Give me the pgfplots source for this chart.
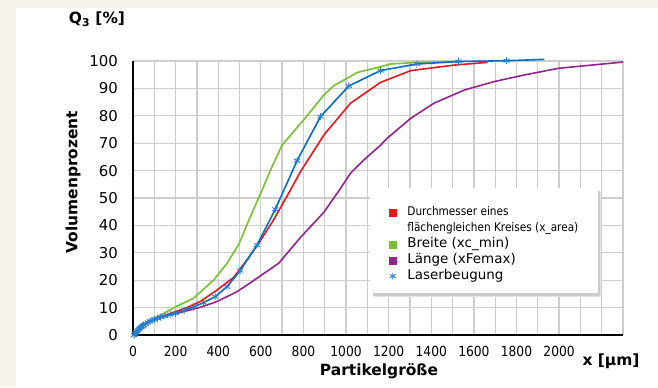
\documentclass[border=0pt]{standalone}
\usepackage{fontspec}
\setmainfont{DejaVu Sans}
\newfontfamily\cond{DejaVu Sans}[FakeStretch=0.88]
\usepackage{pgfplots}
\pgfplotsset{compat=1.18}
\definecolor{cRed}{RGB}{232,22,30}
\definecolor{cGreen}{RGB}{122,190,50}
\definecolor{cPurple}{RGB}{146,36,140}
\definecolor{cBlue}{RGB}{0,112,192}
\definecolor{cMark}{RGB}{40,128,205}
\definecolor{cGrid}{RGB}{205,205,205}
\definecolor{cBeige}{RGB}{247,242,236}
\begin{document}
\begin{tikzpicture}[x=1bp,y=1bp]
\fill[cBeige] (-133,-52) rectangle (525,335);
\fill[white] (-117,-52) rectangle (525,327);
\begin{axis}[
  at={(0,0)}, anchor=south west,
  scale only axis, width=490bp, height=274bp,
  xmin=0, xmax=2300, ymin=0, ymax=100,
  clip=false,
  xtick={0,100,...,2300},
  xticklabels={0,,200,,400,,600,,800,,1000,,1200,,1400,,1600,,1800,,2000,,,},
  ytick={0,10,...,100},
  grid=major,
  major grid style={cGrid, line width=1.3bp},
  axis x line*=bottom, axis y line*=left,
  x axis line style={-, black, line width=1.2bp},
  y axis line style={-, black, line width=1.2bp},
  major tick length=0pt,
  /pgf/number format/assume math mode=true,
  yticklabel style={font=\fontsize{15}{15}\selectfont, inner sep=0pt, anchor=east, xshift=-15bp},
  xticklabel style={font=\cond\fontsize{14}{14}\selectfont, inner sep=0pt, anchor=north, yshift=-11bp},
  legend style={at={(rel axis cs:0.48367,0.5365)}, anchor=north west, draw=none, fill=none,
    inner xsep=14bp, inner ysep=16bp, column sep=9bp,
    nodes={inner sep=2bp, text height=9bp, text depth=3bp}},
  legend cell align=left,
]
\addplot[cPurple, line width=1.6bp, forget plot] coordinates {
(0,0) (20,1.5) (40,3.0) (60,4.1) (80,5.0) (100,5.6) (150,6.8) (200,7.8) (250,8.8)
(315,10.1) (394,12.2) (488,15.8) (582,20.7) (684,26.2) (786,35.6) (896,44.8)
(974,53.5) (1021,59.0) (1084,63.9) (1162,69.3) (1193,71.8) (1304,79.1) (1413,84.6)
(1555,89.4) (1696,92.5) (1837,94.9) (1994,97.3) (2151,98.5) (2300,99.6)};
\addplot[cGreen, line width=1.6bp, forget plot] coordinates {
(0,0) (20,1.5) (40,3.0) (60,4.2) (80,5.1) (100,6.0) (158,8.5) (200,10.3) (284,13.4)
(378,20.0) (440,26.0) (496,33.0) (551,43.2) (606,52.9) (650,61.0) (700,69.3)
(801,78.5) (896,87.6) (943,91.0) (1053,95.8) (1162,97.9) (1209,98.9) (1335,99.5) (1523,99.8)};
\addplot[cRed, line width=1.6bp, forget plot] coordinates {
(0,0) (20,1.5) (40,3.0) (60,4.2) (80,5.1) (100,5.8) (150,7.2) (200,8.5) (250,9.9)
(315,12.2) (394,16.4) (472,21.0) (535,27.4) (590,33.5) (660,42.0) (739,52.9)
(786,59.6) (896,73.0) (1021,84.6) (1162,92.2) (1304,96.5) (1507,98.5) (1664,99.5)};
\addplot[cBlue, line width=1.6bp, forget plot] coordinates {
(5,0) (10,0.4) (15,0.9) (20,1.4) (25,1.9) (30,2.3) (35,2.7) (40,3.0) (45,3.3) (50,3.6)
(60,4.1) (70,4.6) (80,5.0) (90,5.4) (100,5.7) (115,6.1) (130,6.5) (150,6.9) (175,7.4)
(200,7.9) (240,9.0) (284,10.3) (331,11.8) (386,14.0) (441,17.6) (503,23.5) (582,32.8)
(668,45.9) (770,63.6) (880,79.7) (1013,90.9) (1162,96.5) (1332,98.9) (1528,99.8)
(1754,100.1) (1931,100.6)};
\addplot[only marks, mark=asterisk, mark size=3.5bp, cMark, mark options={line width=0.9bp}, forget plot] coordinates {
(5,0) (10,0.4) (15,0.9) (20,1.4) (25,1.9) (30,2.3) (35,2.7) (40,3.0) (45,3.3) (50,3.6)
(60,4.1) (70,4.6) (80,5.0) (90,5.4) (100,5.7) (115,6.1) (130,6.5) (150,6.9) (175,7.4)
(200,7.9) (240,9.0) (284,10.3) (331,11.8) (386,14.0) (441,17.6) (503,23.5) (582,32.8)
(668,45.9) (770,63.6) (880,79.7) (1013,90.9) (1162,96.5) (1332,98.9) (1528,99.8)
(1754,100.1)};
\fill[black!10] (rel axis cs:0.4918,0.5219) rectangle (rel axis cs:0.9551,0.1387);
\fill[black!20] (rel axis cs:0.4898,0.5255) rectangle (rel axis cs:0.9531,0.1423);
\fill[white] (rel axis cs:0.48367,0.5365) rectangle (rel axis cs:0.94898,0.15328);
\addlegendimage{legend image code/.code={\fill[cRed] (5bp,-3.5bp) rectangle (12bp,3.5bp);}}
\addlegendentry{\cond\fontsize{12}{12}\selectfont Durchmesser eines}
\addlegendimage{empty legend}
\addlegendentry{\cond\fontsize{12}{12}\selectfont flächengleichen Kreises (x\_area)}
\addlegendimage{legend image code/.code={\fill[cGreen] (5bp,-3.5bp) rectangle (12bp,3.5bp);}}
\addlegendentry{\fontsize{13.5}{13.5}\selectfont Breite (xc\_min)}
\addlegendimage{legend image code/.code={\fill[cPurple] (5bp,-3.5bp) rectangle (12bp,3.5bp);}}
\addlegendentry{\fontsize{13.5}{13.5}\selectfont Länge (xFemax)}
\addlegendimage{only marks, mark=asterisk, mark size=3.5bp, cMark, mark options={line width=0.9bp}}
\addlegendentry{\fontsize{13.5}{13.5}\selectfont Laserbeugung}
\end{axis}
\node[font=\bfseries\fontsize{15.5}{15.5}\selectfont] at (-36,316) {Q\textsubscript{3} [\%]};
\node[font=\bfseries\fontsize{15.5}{15.5}\selectfont, rotate=90] at (-60,153) {Volumenprozent};
\node[font=\bfseries\fontsize{15.5}{15.5}\selectfont] at (246,-36) {Partikelgröße};
\node[font=\bfseries\fontsize{15.5}{15.5}\selectfont] at (478,-26) {x [µm]};
\pgfresetboundingbox
\path[use as bounding box] (-133,-52) rectangle (525,335);
\end{tikzpicture}
\end{document}
